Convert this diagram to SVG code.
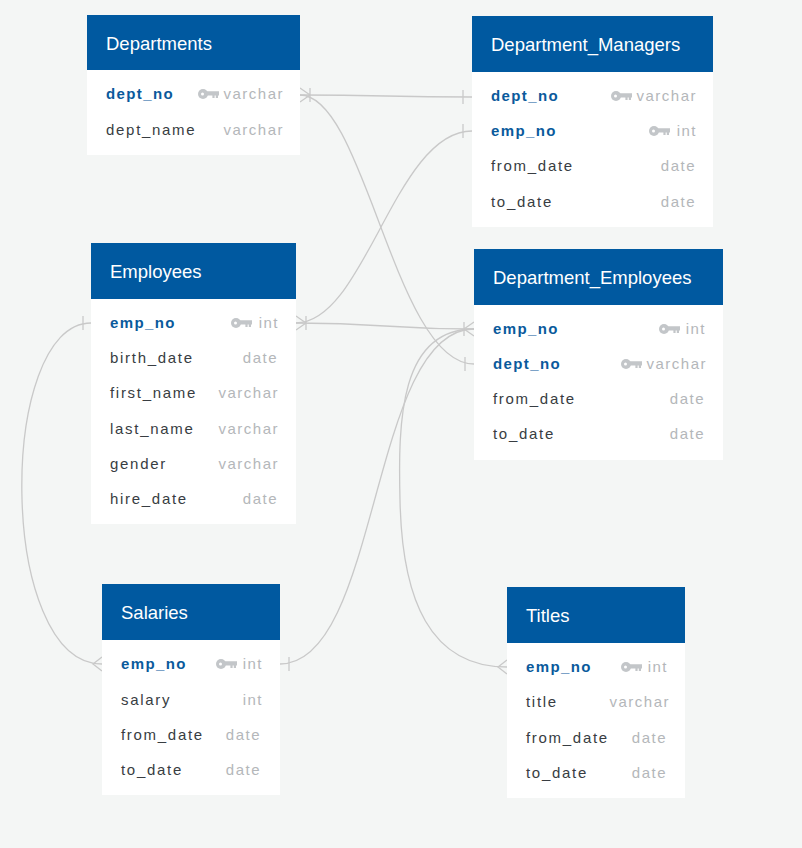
<svg xmlns="http://www.w3.org/2000/svg" xmlns:xlink="http://www.w3.org/1999/xlink" width="802" height="848" viewBox="0 0 802 848">
<style>
.hdr{fill:#0059a0}
.body{fill:#ffffff}
.title{font-family:"Liberation Sans",Arial,sans-serif;font-size:18.5px;fill:#ffffff}
.pk{font-family:"Liberation Sans",Arial,sans-serif;font-size:15px;font-weight:bold;fill:#0a5a9c;letter-spacing:1.4px}
.fld{font-family:"Liberation Sans",Arial,sans-serif;font-size:15px;fill:#383d42;letter-spacing:1.7px}
.typ{font-family:"Liberation Sans",Arial,sans-serif;font-size:15px;fill:#b4b7ba;letter-spacing:1.5px;text-anchor:end}
.conn{fill:none;stroke:#c9c9c9;stroke-width:1.3}
</style>
<defs>
<g id="key">
<circle cx="5" cy="0" r="5" fill="#c3c6c9"/>
<circle cx="4.5" cy="0" r="1.5" fill="#ffffff"/>
<path d="M8,-2.8 H21 V1.6 H20 V4 H17.8 V1.6 H16.6 V4 H14.4 V1.6 H8 Z" fill="#c3c6c9"/>
</g>
</defs>
<rect width="802" height="848" fill="#f4f6f5"/>

<g id="connectors">
<path class="conn" d="M300,95 C386,95 386,97 472,97"/>
<path class="conn" d="M300,95 C365,95 395,364 474,364"/>
<path class="conn" d="M296,323 C365,323 395,131 472,131"/>
<path class="conn" d="M296,323 C385,323 385,329 474,329"/>
<path class="conn" d="M91,323 C-3,323 -3,664 102,664"/>
<path class="conn" d="M280,664 C380,664 370,329 474,329"/>
<path class="conn" d="M474,329 C400,329 398,420 400,500 C402,600 430,667 507,667"/>
<path class="conn" d="M300,88 L310,95 L300,102 M310,88 V102"/>
<path class="conn" d="M463,90 V104"/>
<path class="conn" d="M463,124 V138"/>
<path class="conn" d="M296,316 L306,323 L296,330 M306,316 V330"/>
<path class="conn" d="M474,322 L464,329 L474,336 M464,322 V336"/>
<path class="conn" d="M465,357 V371"/>
<path class="conn" d="M83,316 V330"/>
<path class="conn" d="M102,657 L93,664 L102,671"/>
<path class="conn" d="M289,657 V671"/>
<path class="conn" d="M507,660 L498,667 L507,674"/>
</g>

<g id="Departments">
<rect class="body" x="87" y="15" width="213" height="140"/>
<rect class="hdr" x="87" y="15" width="213" height="55"/>
<text class="title" x="106" y="50">Departments</text>
<text class="pk" x="106" y="99">dept_no</text>
<use xlink:href="#key" href="#key" x="198" y="94"/>
<text class="typ" x="284" y="99">varchar</text>
<text class="fld" x="106" y="135">dept_name</text>
<text class="typ" x="284" y="135">varchar</text>
</g>

<g id="Department_Managers">
<rect class="body" x="472" y="16" width="241" height="211"/>
<rect class="hdr" x="472" y="16" width="241" height="56"/>
<text class="title" x="491" y="51">Department_Managers</text>
<text class="pk" x="491" y="101">dept_no</text>
<use xlink:href="#key" href="#key" x="611" y="96"/>
<text class="typ" x="697" y="101">varchar</text>
<text class="pk" x="491" y="136">emp_no</text>
<use xlink:href="#key" href="#key" x="649" y="131"/>
<text class="typ" x="697" y="136">int</text>
<text class="fld" x="491" y="171">from_date</text>
<text class="typ" x="696" y="171">date</text>
<text class="fld" x="491" y="207">to_date</text>
<text class="typ" x="696" y="207">date</text>
</g>

<g id="Employees">
<rect class="body" x="91" y="243" width="205" height="281"/>
<rect class="hdr" x="91" y="243" width="205" height="56"/>
<text class="title" x="110" y="278">Employees</text>
<text class="pk" x="110" y="328">emp_no</text>
<use xlink:href="#key" href="#key" x="231" y="323"/>
<text class="typ" x="279" y="328">int</text>
<text class="fld" x="110" y="363">birth_date</text>
<text class="typ" x="278" y="363">date</text>
<text class="fld" x="110" y="398">first_name</text>
<text class="typ" x="279" y="398">varchar</text>
<text class="fld" x="110" y="434">last_name</text>
<text class="typ" x="279" y="434">varchar</text>
<text class="fld" x="110" y="469">gender</text>
<text class="typ" x="279" y="469">varchar</text>
<text class="fld" x="110" y="504">hire_date</text>
<text class="typ" x="278" y="504">date</text>
</g>

<g id="Department_Employees">
<rect class="body" x="474" y="249" width="249" height="211"/>
<rect class="hdr" x="474" y="249" width="249" height="56"/>
<text class="title" x="493" y="284">Department_Employees</text>
<text class="pk" x="493" y="334">emp_no</text>
<use xlink:href="#key" href="#key" x="659" y="329"/>
<text class="typ" x="706" y="334">int</text>
<text class="pk" x="493" y="369">dept_no</text>
<use xlink:href="#key" href="#key" x="621" y="364"/>
<text class="typ" x="707" y="369">varchar</text>
<text class="fld" x="493" y="404">from_date</text>
<text class="typ" x="705" y="404">date</text>
<text class="fld" x="493" y="439">to_date</text>
<text class="typ" x="705" y="439">date</text>
</g>

<g id="Salaries">
<rect class="body" x="102" y="584" width="178" height="211"/>
<rect class="hdr" x="102" y="584" width="178" height="56"/>
<text class="title" x="121" y="619">Salaries</text>
<text class="pk" x="121" y="669">emp_no</text>
<use xlink:href="#key" href="#key" x="216" y="664"/>
<text class="typ" x="263" y="669">int</text>
<text class="fld" x="121" y="705">salary</text>
<text class="typ" x="263" y="705">int</text>
<text class="fld" x="121" y="740">from_date</text>
<text class="typ" x="261" y="740">date</text>
<text class="fld" x="121" y="775">to_date</text>
<text class="typ" x="261" y="775">date</text>
</g>

<g id="Titles">
<rect class="body" x="507" y="587" width="178" height="211"/>
<rect class="hdr" x="507" y="587" width="178" height="56"/>
<text class="title" x="526" y="622">Titles</text>
<text class="pk" x="526" y="672">emp_no</text>
<use xlink:href="#key" href="#key" x="621" y="667"/>
<text class="typ" x="668" y="672">int</text>
<text class="fld" x="526" y="707">title</text>
<text class="typ" x="670" y="707">varchar</text>
<text class="fld" x="526" y="743">from_date</text>
<text class="typ" x="667" y="743">date</text>
<text class="fld" x="526" y="778">to_date</text>
<text class="typ" x="667" y="778">date</text>
</g>
</svg>
